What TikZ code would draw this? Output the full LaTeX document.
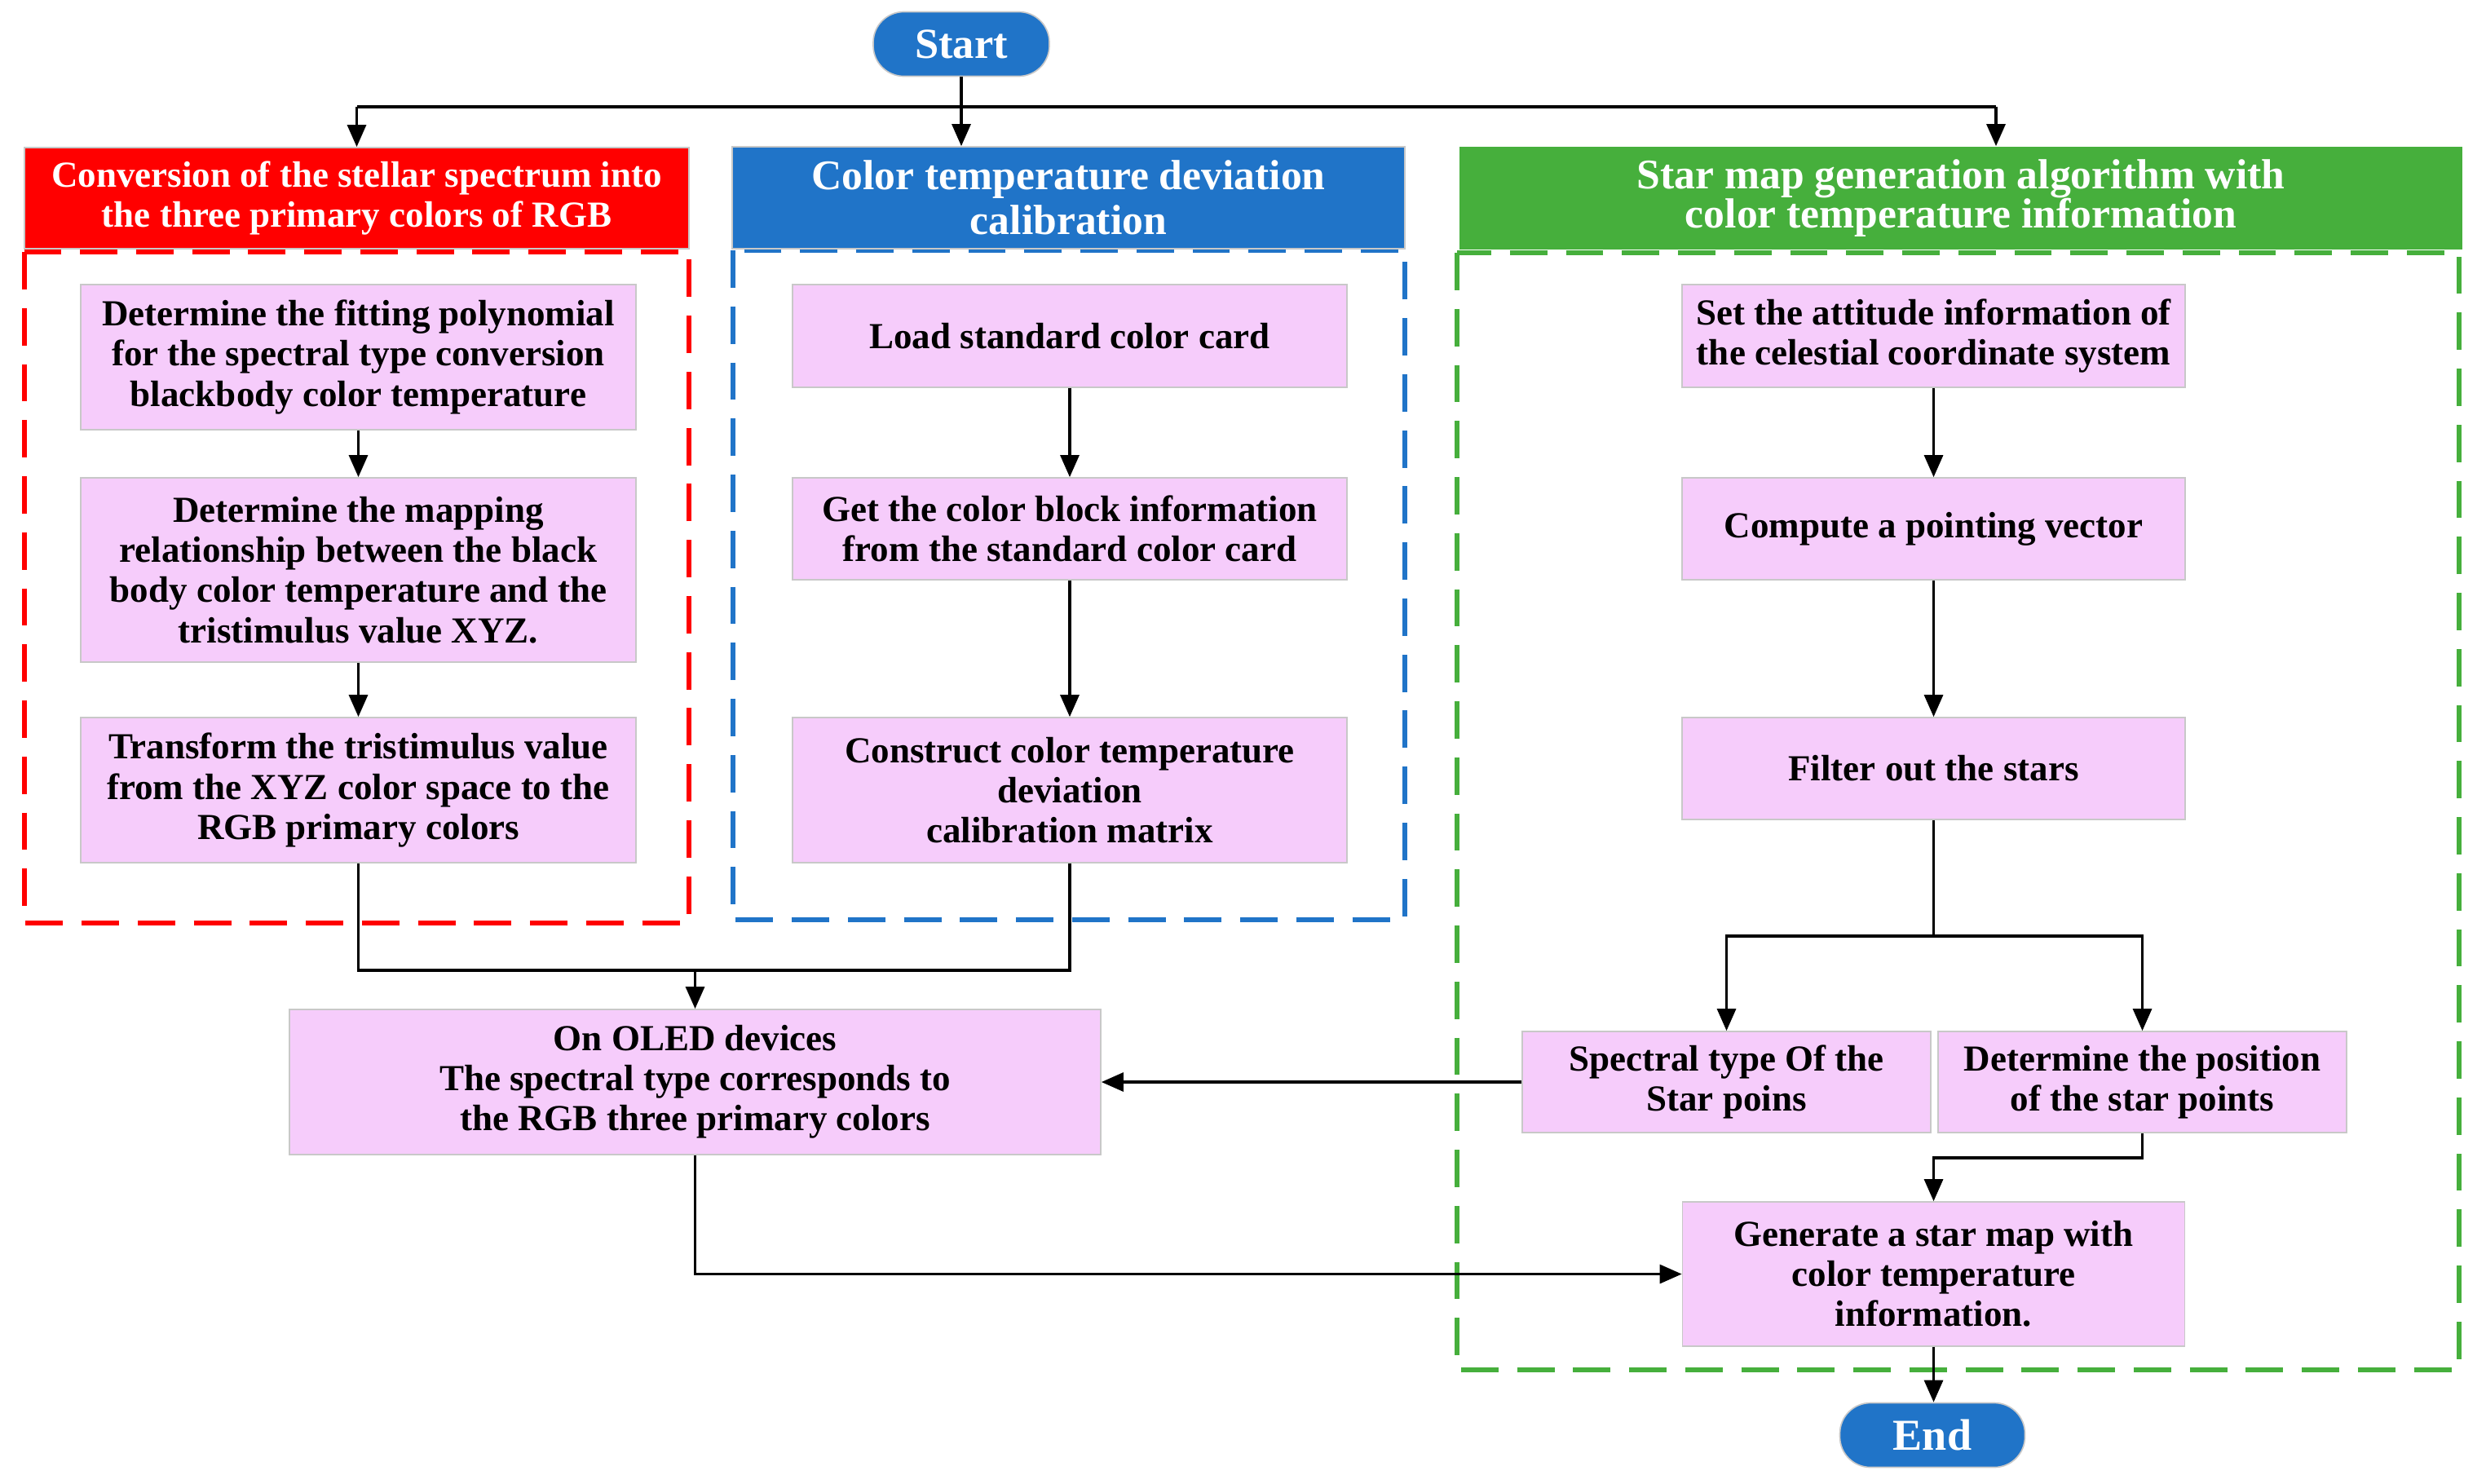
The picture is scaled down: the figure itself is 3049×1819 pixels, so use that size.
\documentclass[tikz,border=0pt]{standalone}
\usepackage{fontspec}
\setmainfont{Liberation Serif}
\usetikzlibrary{arrows.meta}
\definecolor{hred}{RGB}{255,0,0}
\definecolor{hblue}{RGB}{32,116,200}
\definecolor{hgreen}{RGB}{70,175,60}
\definecolor{pinkfill}{RGB}{246,204,251}
\definecolor{boxgray}{RGB}{200,200,200}
\tikzset{
  sz/.style 2 args={minimum width=#1*0.24pt, minimum height=#2*0.24pt},
  stepbox/.style={draw=boxgray, fill=pinkfill, line width=0.4pt, inner sep=0pt, align=center,
    font=\bfseries\fontsize{10.8}{11.8}\selectfont},
  header/.style={inner sep=0pt, align=center, text=white},
  terminal/.style={draw=boxgray, fill=hblue, line width=0.4pt, rounded corners=9pt, inner sep=0pt,
    text=white, font=\bfseries\fontsize{12.6}{14}\selectfont},
  frame/.style={line width=1.44pt, dash pattern=on 11pt off 5.5pt},
  arr/.style={line width=0.84pt, -{Triangle[length=6.5pt, width=5.5pt]}},
  ln/.style={line width=0.84pt},
}
\begin{document}
\begin{tikzpicture}[x=0.24pt, y=-0.24pt]
\useasboundingbox (0,0) rectangle (3049,1819);
% dashed frames
\draw[frame, draw=hred] (29.5,309) rectangle (845,1132);
\draw[frame, draw=hblue] (898.5,307) rectangle (1723,1128);
\draw[frame, draw=hgreen] (1787,310) rectangle (3016,1680);
% headers
\node[header, sz={815}{124}, fill=hred, draw=boxgray, line width=0.4pt,
  font=\bfseries\fontsize{10.8}{11.95}\selectfont] (hR) at (437.5,243)
  {Conversion of the stellar spectrum into\\the three primary colors of RGB};
\node[header, sz={825}{125}, fill=hblue, draw=boxgray, line width=0.4pt,
  font=\bfseries\fontsize{12.4}{13.1}\selectfont] (hB) at (1310.5,242.5)
  {Color temperature deviation\\calibration};
\node[header, sz={1230}{126}, fill=hgreen,
  font=\bfseries\fontsize{12.4}{11.5}\selectfont] (hG) at (2405,243)
  {Star map generation algorithm with\\color temperature information};
% terminals
\node[terminal, sz={216}{79}] (start) at (1179,54) {Start};
\node[terminal, sz={227}{79}, font=\bfseries\fontsize{13}{14}\selectfont] (end) at (2370,1760) {End};
% left column
\node[stepbox, sz={681}{178}] (L1) at (439.5,438)
  {Determine the fitting polynomial\\for the spectral type conversion\\blackbody color temperature};
\node[stepbox, sz={681}{226}] (L2) at (439.5,699)
  {Determine the mapping\\relationship between the black\\body color temperature and the\\tristimulus value XYZ.};
\node[stepbox, sz={681}{178}] (L3) at (439.5,969)
  {Transform the tristimulus value\\from the XYZ color space to the\\RGB primary colors};
% middle column
\node[stepbox, sz={680}{126}] (C1) at (1312,412) {Load standard color card};
\node[stepbox, sz={680}{125}] (C2) at (1312,648.5)
  {Get the color block information\\from the standard color card};
\node[stepbox, sz={680}{178}] (C3) at (1312,969)
  {Construct color temperature\\deviation\\calibration matrix};
% right column
\node[stepbox, sz={617}{126}] (S1) at (2371.5,412)
  {Set the attitude information of\\the celestial coordinate system};
\node[stepbox, sz={617}{125}] (S2) at (2371.5,648.5) {Compute a pointing vector};
\node[stepbox, sz={617}{125}] (S3) at (2371.5,942.5) {Filter out the stars};
\node[stepbox, sz={501}{124}] (SP) at (2117.5,1327) {Spectral type Of the\\Star poins};
\node[stepbox, sz={501}{124}] (PO) at (2627.5,1327) {Determine the position\\of the star points};
\node[stepbox, sz={616}{177}] (GE) at (2371.5,1562.5)
  {Generate a star map with\\color temperature\\information.};
% OLED
\node[stepbox, sz={995}{178}] (OL) at (852.5,1327)
  {On OLED devices\\The spectral type corresponds to\\the RGB three primary colors};
% connectors
\coordinate (tl) at (437.5,131);
\coordinate (tr) at (2448,131);
\draw[arr] (start.south) -- (start.south |- hB.north);
\draw[ln] (tl) -- (tr);
\draw[arr] (tl) -- (tl |- hR.north);
\draw[arr] (tr) -- (tr |- hG.north);
\draw[arr] (L1) -- (L2);
\draw[arr] (L2) -- (L3);
\draw[arr] (C1) -- (C2);
\draw[arr] (C2) -- (C3);
\draw[arr] (S1) -- (S2);
\draw[arr] (S2) -- (S3);
\coordinate (m) at (852.5,1190);
\draw[ln] (L3.south) |- (m) -| (C3.south);
\draw[arr] (m) -- (OL.north);
\coordinate (b) at (2371.5,1148);
\draw[ln] (S3.south) -- (b);
\draw[arr] (b) -| (SP.north);
\draw[arr] (b) -| (PO.north);
\coordinate (p) at (2371.5,1420);
\draw[arr] (PO.south) |- (p) -- (GE.north);
\draw[arr] (SP.west) -- (OL.east);
\draw[arr] (OL.south) |- (GE.west);
\draw[arr] (GE.south) -- (GE.south |- end.north);
\end{tikzpicture}
\end{document}
